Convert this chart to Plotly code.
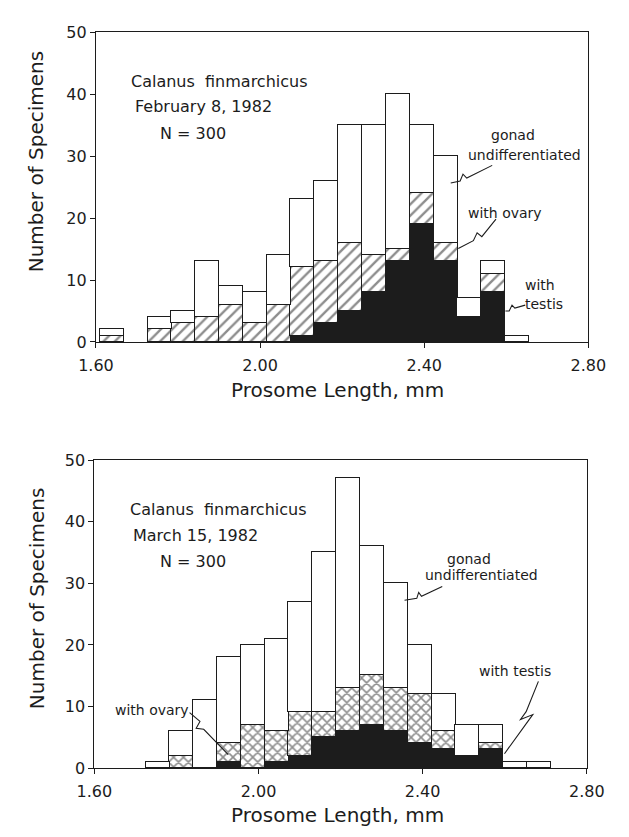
import plotly.graph_objects as go

W, H = 629, 837

# ---------------- data ----------------
# bin centres (prosome length, mm) and bin width
length_mm = [1.638, 1.696, 1.755, 1.813, 1.871, 1.929, 1.987, 2.045, 2.103, 2.161,
             2.219, 2.277, 2.336, 2.394, 2.452, 2.510, 2.568, 2.626, 2.684]
bin_width = 0.0581

# February 8, 1982 (N = 300)
feb_testis = [0, 0, 0, 0, 0, 0, 0, 0, 1, 3, 5, 8, 13, 19, 13, 4, 8, 0, 0]
feb_ovary = [1, 0, 2, 3, 4, 6, 3, 6, 11, 10, 11, 6, 2, 5, 3, 0, 3, 0, 0]
feb_undiff = [1, 0, 2, 2, 9, 3, 5, 8, 11, 13, 19, 21, 25, 11, 14, 3, 2, 1, 0]

# March 15, 1982 (N = 300)
mar_testis = [0, 0, 0, 0, 0, 1, 0, 1, 2, 5, 6, 7, 6, 4, 3, 2, 3, 0, 0]
mar_ovary = [0, 0, 0, 2, 0, 3, 7, 5, 7, 4, 7, 8, 7, 8, 3, 0, 1, 0, 0]
mar_undiff = [0, 0, 1, 4, 11, 14, 13, 15, 18, 26, 34, 21, 17, 8, 6, 5, 3, 1, 1]

x_ticks = [1.60, 2.00, 2.40, 2.80]
y_ticks = [0, 10, 20, 30, 40, 50]

FONT = "DejaVu Sans"
INK = "#1c1c1c"


def nz(vals):
    return [v if v else None for v in vals]


fig = go.Figure()

line = dict(color=INK, width=1.1)


def add_panel(testis, ovary, undiff, xa, ya, hatch, hsize, hsol):
    fig.add_trace(go.Bar(x=length_mm, y=nz(testis), width=bin_width, xaxis=xa, yaxis=ya,
                         marker=dict(color=INK, line=line), name="with testis",
                         showlegend=False))
    fig.add_trace(go.Bar(x=length_mm, y=nz(ovary), width=bin_width, xaxis=xa, yaxis=ya,
                         marker=dict(color="white", line=line,
                                     pattern=dict(shape=hatch, fgcolor=INK, bgcolor="white",
                                                  size=hsize, solidity=hsol)),
                         name="with ovary", showlegend=False))
    fig.add_trace(go.Bar(x=length_mm, y=nz(undiff), width=bin_width, xaxis=xa, yaxis=ya,
                         marker=dict(color="white", line=line),
                         name="gonad undifferentiated", showlegend=False))


add_panel(feb_testis, feb_ovary, feb_undiff, "x", "y", "/", 8, 0.3)
add_panel(mar_testis, mar_ovary, mar_undiff, "x2", "y2", "x", 7, 0.4)


def px(x):
    return x / W


def py(y):
    return 1 - y / H


axis_common = dict(showline=True, mirror=True, linecolor=INK, linewidth=1.2,
                   showgrid=False, zeroline=False, ticks="outside", ticklen=5,
                   tickcolor=INK, tickwidth=1.2,
                   tickfont=dict(family=FONT, size=16, color=INK))

fig.update_layout(
    width=W, height=H, margin=dict(l=0, r=0, t=0, b=0),
    paper_bgcolor="white", plot_bgcolor="white",
    barmode="stack", bargap=0,
    font=dict(family=FONT, color=INK),
    xaxis=dict(domain=[82.7 / W, 605 / W], range=[1.60, 2.80], anchor="y",
               tickvals=x_ticks, tickformat=".2f", ticklabelstandoff=4, **axis_common),
    yaxis=dict(domain=[py(340.7), py(23.7)], range=[0, 50], anchor="x",
               tickvals=y_ticks, **axis_common),
    xaxis2=dict(domain=[81 / W, 603.3 / W], range=[1.60, 2.80], anchor="y2",
                tickvals=x_ticks, tickformat=".2f", ticklabelstandoff=4, **axis_common),
    yaxis2=dict(domain=[py(776.7), py(461.7)], range=[0, 50], anchor="x2",
                tickvals=y_ticks, **axis_common),
)

ann = []


def text(x, y, s, xref, yref, size=16, xanchor="center", angle=0):
    ann.append(dict(x=x, y=y, xref=xref, yref=yref, text=s, showarrow=False,
                    xanchor=xanchor, yanchor="middle", textangle=angle,
                    font=dict(family=FONT, size=size, color=INK)))


# top panel
text(1.681, 42.1, "Calanus  finmarchicus", "x", "y", xanchor="left")
text(1.690, 38.0, "February 8, 1982", "x", "y", xanchor="left")
text(1.752, 33.6, "N = 300", "x", "y", xanchor="left")
text(2.616, 33.4, "gonad", "x", "y", size=14)
text(2.644, 30.2, "undifferentiated", "x", "y", size=14)
text(2.596, 20.8, "with ovary", "x", "y", size=14)
text(2.681, 9.2, "with", "x", "y", size=14)
text(2.692, 6.1, "testis", "x", "y", size=14)

# bottom panel
text(1.683, 42.0, "Calanus  finmarchicus", "x2", "y2", xanchor="left")
text(1.690, 37.7, "March 15, 1982", "x2", "y2", xanchor="left")
text(1.754, 33.5, "N = 300", "x2", "y2", xanchor="left")
text(2.512, 34.0, "gonad", "x2", "y2", size=14)
text(2.543, 31.4, "undifferentiated", "x2", "y2", size=14)
text(1.741, 9.4, "with ovary", "x2", "y2", size=14)
text(2.625, 15.7, "with testis", "x2", "y2", size=14)

# axis titles
text(px(339), py(390), "Prosome Length, mm", "paper", "paper", size=20)
text(px(339), py(825), "Prosome Length, mm", "paper", "paper", size=20)
text(px(20), py(156), "Number of Specimens", "paper", "paper", size=20, angle=-90)
text(px(20), py(603), "Number of Specimens", "paper", "paper", size=20, angle=-90)

fig.update_layout(annotations=ann)

# squiggly leader lines (pixel paths)
leaders = [
    [(503, 160), (476, 173), (472, 169), (469, 176), (459, 178)],
    [(507, 215), (492, 233), (487, 229), (483, 237), (467, 245)],
    [(538, 303), (527, 306), (524, 303), (521, 309), (517, 309)],
    [(450, 591), (428, 601), (425, 597), (423, 603), (410, 605)],
    [(182, 720), (193, 729), (189, 736), (197, 737), (223, 763)],
    [(552, 688), (539, 719), (533, 727), (546, 722), (516, 762)],
]
shapes = []
for pts in leaders:
    path = "M " + " L ".join(f"{px(x):.5f},{py(y):.5f}" for x, y in pts)
    shapes.append(dict(type="path", path=path, xref="paper", yref="paper",
                       line=dict(color=INK, width=1.1)))
fig.update_layout(shapes=shapes)

fig.write_html("out.html")
